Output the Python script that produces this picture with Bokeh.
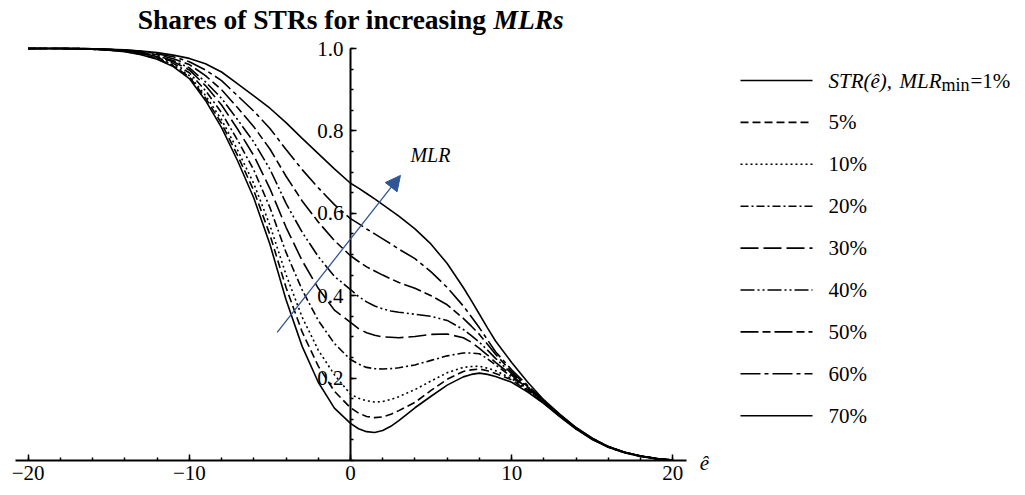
from bokeh.plotting import figure
from bokeh.models import Range1d, FixedTicker, Label, Arrow, NormalHead, CustomJSTickFormatter, PrintfTickFormatter
from bokeh.embed import file_html
from bokeh.resources import INLINE
from bokeh.core.properties import value

# ---------------- data ----------------
x_hat = [-20, -19, -18, -17, -16, -15, -14, -13, -12, -11, -10, -9, -8, -7, -6, -5, -4, -3, -2, -1, 0,
         0.5, 1, 1.5, 2, 2.5, 3, 4, 5, 6, 7, 7.5, 8, 8.5, 9, 10, 11, 12, 13, 14, 15, 16, 17, 18, 19, 20]

str_1 = [1.0, 1.0, 1.0, 0.999, 0.998, 0.996, 0.992, 0.985, 0.974, 0.956, 0.927, 0.874, 0.808, 0.727, 0.637, 0.525, 0.39, 0.277, 0.19, 0.127,
         0.09, 0.077, 0.07, 0.068, 0.073, 0.083, 0.097, 0.128, 0.156, 0.183, 0.203, 0.209, 0.212, 0.209, 0.204,
         0.19, 0.166, 0.138, 0.106, 0.076, 0.051, 0.032, 0.019, 0.010, 0.004, 0.001]
str_5 = [1.0, 1.0, 1.0, 0.999, 0.998, 0.996, 0.993, 0.986, 0.975, 0.958, 0.931, 0.88, 0.818, 0.74, 0.655, 0.548, 0.42, 0.312, 0.229, 0.168,
         0.128, 0.115, 0.107, 0.104, 0.106, 0.112, 0.121, 0.141, 0.170, 0.197, 0.216, 0.220, 0.222, 0.218, 0.211,
         0.196, 0.168, 0.139, 0.107, 0.077, 0.052, 0.032, 0.019, 0.010, 0.004, 0.001]
str_10 = [1.0, 1.0, 1.0, 0.999, 0.998, 0.997, 0.994, 0.987, 0.976, 0.96, 0.934, 0.886, 0.827, 0.753, 0.672, 0.571, 0.451, 0.348, 0.268, 0.208,
          0.161, 0.151, 0.145, 0.142, 0.143, 0.148, 0.155, 0.172, 0.193, 0.213, 0.226, 0.228, 0.229, 0.224, 0.218,
          0.199, 0.170, 0.141, 0.108, 0.077, 0.052, 0.033, 0.019, 0.010, 0.004, 0.001]
str_20 = [1.0, 1.0, 1.0, 0.999, 0.998, 0.997, 0.994, 0.988, 0.978, 0.964, 0.941, 0.898, 0.844, 0.777, 0.705, 0.614, 0.505, 0.414, 0.34, 0.284,
          0.245, 0.234, 0.226, 0.223, 0.222, 0.223, 0.225, 0.232, 0.243, 0.254, 0.261, 0.261, 0.259, 0.247, 0.232,
          0.203, 0.172, 0.142, 0.109, 0.078, 0.052, 0.033, 0.020, 0.011, 0.004, 0.001]
str_30 = [1.0, 1.0, 1.0, 1.0, 0.999, 0.997, 0.995, 0.99, 0.98, 0.968, 0.948, 0.91, 0.863, 0.804, 0.74, 0.66, 0.566, 0.485, 0.418, 0.365,
          0.335, 0.32, 0.31, 0.304, 0.30, 0.299, 0.298, 0.301, 0.306, 0.307, 0.298, 0.287, 0.272, 0.256, 0.238,
          0.207, 0.174, 0.143, 0.109, 0.078, 0.053, 0.033, 0.020, 0.011, 0.005, 0.001]
str_40 = [1.0, 1.0, 1.0, 1.0, 0.999, 0.997, 0.995, 0.99, 0.982, 0.971, 0.953, 0.919, 0.879, 0.827, 0.773, 0.707, 0.624, 0.554, 0.495, 0.447,
          0.415, 0.398, 0.385, 0.375, 0.368, 0.363, 0.36, 0.355, 0.35, 0.34, 0.318, 0.303, 0.287, 0.268, 0.248,
          0.211, 0.177, 0.144, 0.110, 0.079, 0.053, 0.033, 0.020, 0.011, 0.005, 0.001]
str_50 = [1.0, 1.0, 1.0, 1.0, 0.999, 0.998, 0.996, 0.991, 0.985, 0.975, 0.961, 0.934, 0.90, 0.856, 0.81, 0.756, 0.69, 0.63, 0.579, 0.534,
          0.497, 0.483, 0.47, 0.46, 0.45, 0.441, 0.432, 0.418, 0.40, 0.378, 0.345, 0.326, 0.306, 0.282, 0.258,
          0.215, 0.179, 0.145, 0.110, 0.079, 0.053, 0.034, 0.020, 0.011, 0.005, 0.001]
str_60 = [1.0, 1.0, 1.0, 1.0, 0.999, 0.998, 0.996, 0.993, 0.987, 0.98, 0.968, 0.948, 0.922, 0.885, 0.848, 0.806, 0.755, 0.706, 0.662, 0.621,
          0.587, 0.575, 0.562, 0.55, 0.538, 0.526, 0.513, 0.49, 0.458, 0.42, 0.375, 0.349, 0.322, 0.293, 0.264,
          0.22, 0.182, 0.146, 0.111, 0.079, 0.054, 0.034, 0.020, 0.011, 0.005, 0.001]
str_70 = [1.0, 1.0, 1.0, 1.0, 0.999, 0.998, 0.997, 0.994, 0.99, 0.984, 0.976, 0.963, 0.943, 0.914, 0.885, 0.855, 0.82, 0.782, 0.745, 0.708,
          0.673, 0.661, 0.648, 0.635, 0.621, 0.607, 0.593, 0.562, 0.525, 0.478, 0.42, 0.388, 0.355, 0.322, 0.29,
          0.238, 0.19, 0.147, 0.112, 0.08, 0.054, 0.034, 0.020, 0.011, 0.005, 0.001]

series = [str_1, str_5, str_10, str_20, str_30, str_40, str_50, str_60, str_70]
legend_labels = ["1%", "5%", "10%", "20%", "30%", "40%", "50%", "60%", "70%"]
dashes = ["solid", "8 4", "2 3", "8 3 2 3", "18 5", "14 3 2 3 2 3", "18 4 8 4", "20 4 4 4", "solid"]

x_major = [-20, -10, 0, 10, 20]
x_minor = list(range(-20, 21, 2))
y_major = [0.2, 0.4, 0.6, 0.8, 1.0]
y_minor = [round(0.05 * k, 2) for k in range(21)]

SERIF = "Liberation Serif"
BLUE = "#2f5597"

# pixel geometry of the picture (frame = whole canvas)
W, H = 1025, 495
X0_PX, PX_PER_X = 350.0, 16.115
Y0_PX, PX_PER_Y = 460.0, 412.0


def dx(px):
    return (px - X0_PX) / PX_PER_X


def dy(py):
    return (Y0_PX - py) / PX_PER_Y


p = figure(frame_width=W, frame_height=H, min_border=0,
           x_range=Range1d(dx(0), dx(W)), y_range=Range1d(dy(H), dy(0)),
           output_backend="svg", toolbar_location=None)
p.grid.visible = False
p.outline_line_color = None
p.background_fill_color = "white"
p.border_fill_color = "white"

for ys, d in zip(series, dashes):
    p.line(x_hat, ys, line_color="black", line_width=1.6, line_dash=d)

xa = p.xaxis[0]
xa.ticker = FixedTicker(ticks=x_major, minor_ticks=x_minor)
xa.formatter = CustomJSTickFormatter(code="return tick < 0 ? '\u2212' + Math.abs(tick) : '' + tick;")
xa.fixed_location = 0
xa.bounds = (dx(15), dx(686))
ya = p.yaxis[0]
ya.ticker = FixedTicker(ticks=y_major, minor_ticks=y_minor)
ya.formatter = PrintfTickFormatter(format="%.1f")
ya.fixed_location = 0
ya.bounds = (0, 1.0)
for ax in (xa, ya):
    ax.axis_line_width = 2
    ax.axis_line_color = "black"
    ax.major_tick_in = 6
    ax.major_tick_out = 0
    ax.minor_tick_in = 3
    ax.minor_tick_out = 0
    ax.major_tick_line_width = 1.5
    ax.minor_tick_line_width = 1.5
    ax.major_tick_line_color = "black"
    ax.minor_tick_line_color = "black"
    ax.major_label_text_font = SERIF
    ax.major_label_text_font_size = "21px"
    ax.major_label_text_color = "black"
xa.major_label_standoff = 5
ya.major_label_standoff = 7

# title (bold, with italic MLRs)
p.add_layout(Label(x=dx(486), y=dy(19), text="Shares of STRs for increasing", text_align="right",
                   text_baseline="alphabetic", text_font=SERIF, text_font_style="bold",
                   text_font_size="27.5px", text_color="black"))
p.add_layout(Label(x=dx(493), y=dy(19), text="MLRs", text_align="left", text_baseline="alphabetic",
                   text_font=SERIF, text_font_style="bold italic", text_font_size="27.5px", text_color="black"))
# axis label
p.add_layout(Label(x=dx(704), y=dy(462), text="ê", text_align="center", text_baseline="middle",
                   text_font=SERIF, text_font_style="italic", text_font_size="21px", text_color="black"))
# arrow + MLR annotation
p.add_layout(Arrow(x_start=-4.55, y_start=0.311, x_end=3.1, y_end=0.692, line_color=BLUE, line_width=1.3,
                   end=NormalHead(size=15, fill_color=BLUE, line_color=BLUE)))
p.add_layout(Label(x=3.72, y=dy(154), text="MLR", text_align="left", text_baseline="alphabetic",
                   text_font=SERIF, text_font_style="italic", text_font_size="20px", text_color="black"))

# ---------------- legend ----------------
row_py = [80 + 41.9 * i for i in range(len(series))]
for py, d in zip(row_py, dashes):
    p.line([dx(740), dx(812)], [dy(py), dy(py)], line_color="black", line_width=1.6, line_dash=d)
p.text(x=[dx(828)] * 8, y=[dy(py) for py in row_py[1:]], text=legend_labels[1:], text_font=value(SERIF),
       text_font_size="21px", text_baseline="middle", text_color="black")
# first entry: STR(ê), MLR_min=1%
p.text(x=[dx(828)], y=[dy(row_py[0])], text=["STR(ê),"], text_font=value(SERIF), text_font_style="italic",
       text_font_size="21px", text_baseline="middle", text_color="black")
p.text(x=[dx(899)], y=[dy(row_py[0])], text=["MLR"], text_font=value(SERIF), text_font_style="italic",
       text_font_size="21px", text_baseline="middle", text_color="black")
p.text(x=[dx(941)], y=[dy(row_py[0] + 4)], text=["min"], text_font=value(SERIF),
       text_font_size="18px", text_baseline="middle", text_color="black")
p.text(x=[dx(970)], y=[dy(row_py[0])], text=["=1%"], text_font=value(SERIF),
       text_font_size="21px", text_baseline="middle", text_color="black")

open("out.html", "w").write(file_html(p, INLINE))
